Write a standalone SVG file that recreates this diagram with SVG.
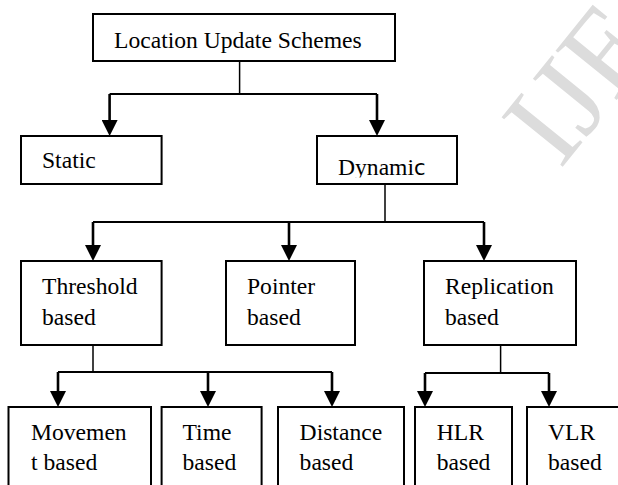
<svg xmlns="http://www.w3.org/2000/svg" width="618" height="485" viewBox="0 0 618 485">
<style>
.box{fill:#fff;stroke:#000;stroke-width:2}
.t{font-size:23.6px;fill:#000}
.stem{fill:none;stroke:#000;stroke-width:1.5}
.bar{fill:none;stroke:#000;stroke-width:2.2}
.arr{fill:none;stroke:#000;stroke-width:2.6;marker-end:url(#ah)}
.wm{font-size:120px;fill:#dcdcdc}
</style>
<defs>
<marker id="ah" markerUnits="userSpaceOnUse" viewBox="0 0 16 16" markerWidth="16" markerHeight="16" refX="8" refY="8" orient="auto">
<path d="M0,0 L16,8 L0,16 z" fill="#000"/>
</marker>
<clipPath id="dynclip"><rect x="317" y="136" width="140" height="41.5"/></clipPath>
</defs>
<rect width="618" height="485" fill="#fff"/>
<g id="watermark" font-family="Liberation Serif, Times New Roman, serif"><text class="wm" x="0" y="0" transform="translate(560,170) rotate(-51)">IJERT</text></g>
<g id="connectors">
<path class="stem" d="M239.6,61 V94"/>
<path class="bar" d="M109.6,94 H377"/>
<path class="arr" d="M109.6,94 V128"/>
<path class="arr" d="M377,94 V128"/>
<path class="stem" d="M385,184 V222"/>
<path class="bar" d="M93,222 H484"/>
<path class="arr" d="M93,222 V253"/>
<path class="arr" d="M289,222 V253"/>
<path class="arr" d="M484,222 V253"/>
<path class="stem" d="M93,345 V372"/>
<path class="bar" d="M58,372 H332"/>
<path class="arr" d="M58,372 V399"/>
<path class="arr" d="M208,372 V399"/>
<path class="arr" d="M332,372 V399"/>
<path class="stem" d="M500.6,345 V373"/>
<path class="bar" d="M425,373 H549"/>
<path class="arr" d="M425,373 V399"/>
<path class="arr" d="M549,373 V399"/>
</g>
<g id="nodes" font-family="Liberation Serif, Times New Roman, serif">
<g id="root"><rect class="box" x="93" y="14" width="302" height="47"/><text class="t" x="114" y="48">Location Update Schemes</text></g>
<g id="static"><rect class="box" x="21" y="136" width="140.6" height="48"/><text class="t" x="42" y="168">Static</text></g>
<g id="dynamic"><rect class="box" x="317" y="136" width="140" height="48"/><text class="t" x="338" y="175" clip-path="url(#dynclip)">Dynami<tspan font-family="DejaVu Sans, sans-serif" font-size="21">c</tspan></text></g>
<g id="threshold"><rect class="box" x="21" y="261" width="140.6" height="84"/><text class="t" x="42" y="294">Threshold</text><text class="t" x="42" y="325">based</text></g>
<g id="pointer"><rect class="box" x="226" y="261" width="129" height="84"/><text class="t" x="247" y="294">Pointer</text><text class="t" x="247" y="325">based</text></g>
<g id="replication"><rect class="box" x="424" y="261" width="152" height="84"/><text class="t" x="445" y="294">Replication</text><text class="t" x="445" y="325">based</text></g>
<g id="movement"><rect class="box" x="8.5" y="407" width="142.5" height="100"/><text class="t" x="31" y="440">Movemen</text><text class="t" x="31" y="470">t based</text></g>
<g id="time"><rect class="box" x="161.6" y="407" width="100" height="100"/><text class="t" x="182.5" y="440">Time</text><text class="t" x="182.5" y="470">based</text></g>
<g id="distance"><rect class="box" x="278" y="407" width="126" height="100"/><text class="t" x="299.6" y="440">Distance</text><text class="t" x="299.6" y="470">based</text></g>
<g id="hlr"><rect class="box" x="415" y="407" width="97" height="100"/><text class="t" x="436.7" y="440">HLR</text><text class="t" x="436.7" y="470">based</text></g>
<g id="vlr"><rect class="box" x="527" y="407" width="120" height="100"/><text class="t" x="548" y="440">VLR</text><text class="t" x="548" y="470">based</text></g>
</g>
</svg>
